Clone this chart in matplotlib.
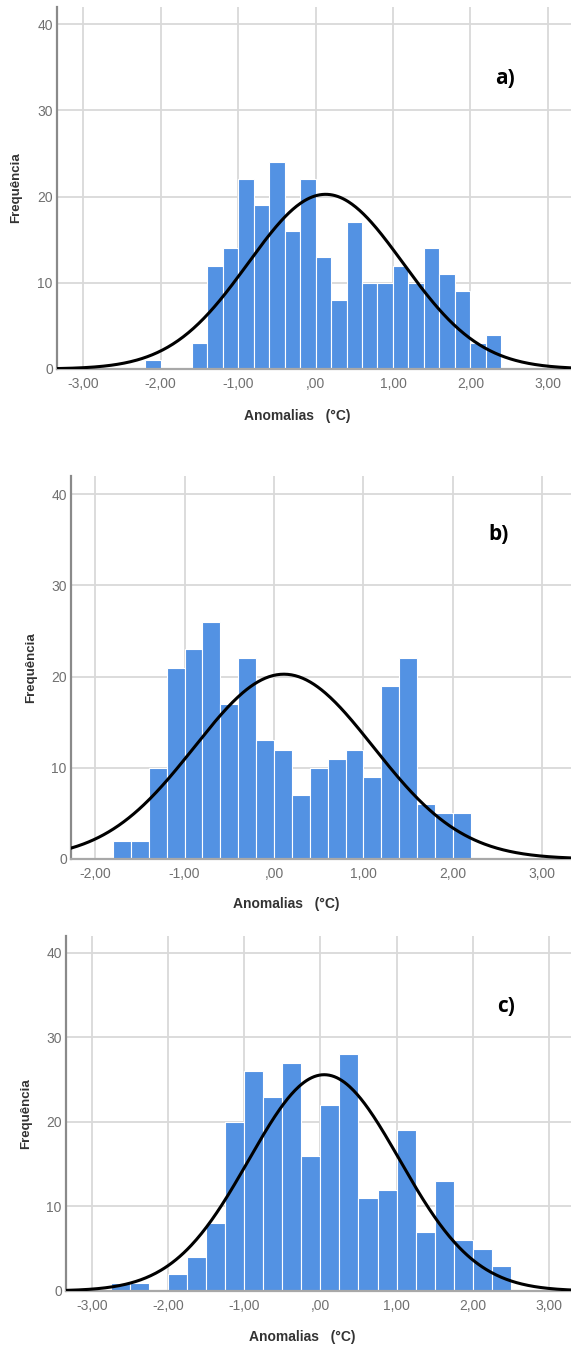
"""
Histogramas de anomalias de temperatura com curva normal ajustada (3 painéis).
"""
import numpy as np
import matplotlib
matplotlib.use("Agg")
import matplotlib.pyplot as plt

# Painel a) - classes de 0,2 a partir de -2,2
counts_a = [1, 0, 0, 3, 12, 14, 22, 19, 24, 16, 22, 13, 8, 17, 10, 10, 12, 10, 14, 11, 9, 3, 4]
start_a, width_a = -2.2, 0.2
mu_a, sigma_a = 0.13, 1.0

# Painel b) - classes de 0,2 a partir de -1,8
counts_b = [2, 2, 10, 21, 23, 26, 17, 22, 13, 12, 7, 10, 11, 12, 9, 19, 22, 6, 5, 5]
start_b, width_b = -1.8, 0.2
mu_b, sigma_b = 0.11, 1.0

# Painel c) - classes de 0,25 a partir de -2,75
counts_c = [1, 1, 0, 2, 4, 8, 20, 26, 23, 27, 16, 22, 28, 11, 12, 19, 7, 13, 6, 5, 3]
start_c, width_c = -2.75, 0.25
mu_c, sigma_c = 0.05, 0.99

xticks_ac = [-3, -2, -1, 0, 1, 2, 3]
xlabels_ac = ["-3,00", "-2,00", "-1,00", ",00", "1,00", "2,00", "3,00"]
xticks_b = [-2, -1, 0, 1, 2, 3]
xlabels_b = ["-2,00", "-1,00", ",00", "1,00", "2,00", "3,00"]
yticks = [0, 10, 20, 30, 40]

BAR = "#5392e3"
GRID = "#d9d9d9"
FONT = "Liberation Sans"

W, H = 571, 1347
fig = plt.figure(figsize=(W / 100, H / 100), dpi=100)


def px_axes(left, top, bottom, right=W):
    return fig.add_axes([left / W, 1 - bottom / H, (right - left) / W, (bottom - top) / H])


def panel(ax, counts, start, width, mu, sigma, xlim, xticks, xlabels, tag, tag_xy, xlab_xy):
    n = sum(counts)
    edges = start + width * np.arange(len(counts))
    ax.bar(edges, counts, width=width, align="edge", color=BAR,
           edgecolor="white", linewidth=0.8, zorder=2)
    # curva normal ajustada
    xs = np.linspace(xlim[0], xlim[1], 400)
    pdf = np.exp(-0.5 * ((xs - mu) / sigma) ** 2) / (sigma * np.sqrt(2 * np.pi))
    ax.plot(xs, pdf * n * width, color="black", linewidth=2.2, zorder=3)

    ax.set_xlim(*xlim)
    ax.set_ylim(0, 42)
    ax.set_xticks(xticks)
    ax.set_xticklabels(xlabels)
    ax.set_yticks(yticks)
    ax.grid(True, color=GRID, linewidth=1.3, zorder=0)
    ax.set_axisbelow(True)
    ax.tick_params(length=0, labelsize=10, labelcolor="#707070", pad=6)
    for lbl in ax.get_xticklabels() + ax.get_yticklabels():
        lbl.set_family(FONT)
    ax.tick_params(axis="y", pad=3)
    for s in ["top", "right"]:
        ax.spines[s].set_visible(False)
    ax.spines["left"].set_color("#8a8a8a")
    ax.spines["left"].set_linewidth(1.6)
    ax.spines["bottom"].set_color("#a8a8a8")
    ax.spines["bottom"].set_linewidth(1.6)

    ax.set_xlabel("Anomalias   (°C)", fontsize=10, fontweight="bold", family=FONT, color="#333333")
    ax.xaxis.set_label_coords(*xlab_xy)
    ax.set_ylabel("Frequência", fontsize=9.5, fontweight="bold", family=FONT, color="#333333")
    ax.yaxis.set_label_coords(-0.068, 0.5)

    fig.text(tag_xy[0] / W, 1 - tag_xy[1] / H, tag, fontsize=15, fontweight="bold",
             family="Open Sans", ha="center", va="center")


ax_a = px_axes(57, 7, 369)
panel(ax_a, counts_a, start_a, width_a, mu_a, sigma_a, (-3.34, 3.30),
      xticks_ac, xlabels_ac, "a)", (505, 78), (0.467, -0.11))

ax_b = px_axes(71, 476, 859)
panel(ax_b, counts_b, start_b, width_b, mu_b, sigma_b, (-2.27, 3.32),
      xticks_b, xlabels_b, "b)", (499, 534), (0.43, -0.099))

ax_c = px_axes(66, 936, 1291)
panel(ax_c, counts_c, start_c, width_c, mu_c, sigma_c, (-3.34, 3.29),
      xticks_ac, xlabels_ac, "c)", (506, 1007), (0.467, -0.11))

fig.savefig("out.png", dpi=100)
plt.close(fig)
